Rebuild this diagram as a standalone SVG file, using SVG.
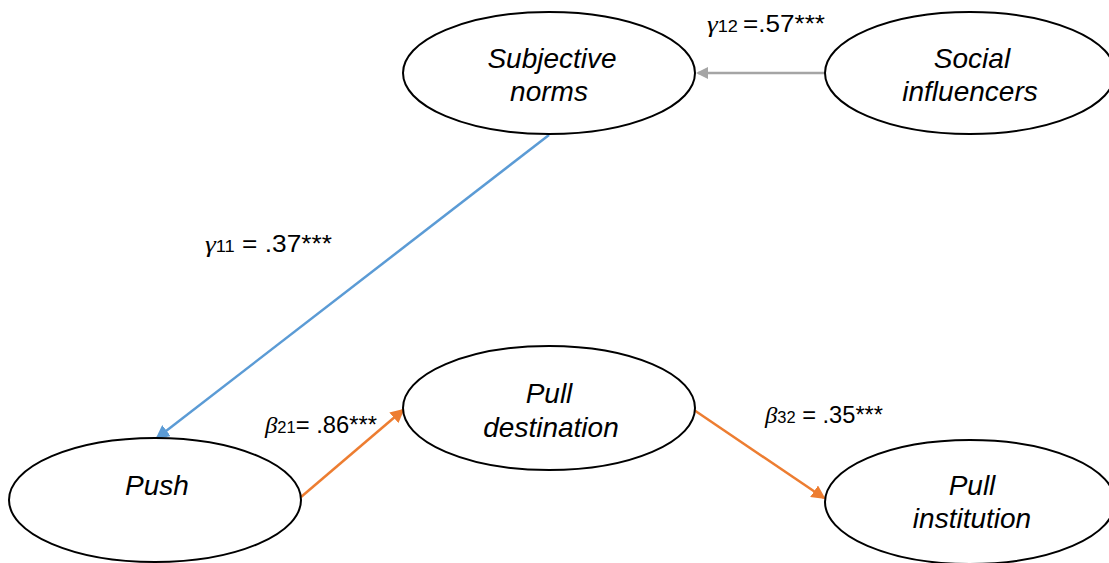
<svg xmlns="http://www.w3.org/2000/svg" width="1109" height="563" viewBox="0 0 1109 563">
<defs>
<style>
.node{fill:#fff;stroke:#000;stroke-width:2}
.nt{font-family:"Liberation Sans",Arial,sans-serif;font-style:italic;font-size:28px;text-anchor:middle;fill:#000}
.lb{font-family:"Liberation Sans",Arial,sans-serif;font-size:23px;fill:#000}
.gr{font-family:"Liberation Serif","Times New Roman",serif;font-style:italic;font-size:24px}
.sb{font-size:16px}
</style>
<marker id="ag" markerWidth="12" markerHeight="12" refX="10" refY="6" orient="auto" markerUnits="userSpaceOnUse" viewBox="0 0 12 12"><path d="M0,0L12,6L0,12z" fill="#A5A5A5"/></marker>
<marker id="ab" markerWidth="14" markerHeight="14" refX="12" refY="7" orient="auto" markerUnits="userSpaceOnUse" viewBox="0 0 14 14"><path d="M0,0L14,7L0,14z" fill="#5B9BD5"/></marker>
<marker id="ao" markerWidth="14" markerHeight="14" refX="12" refY="7" orient="auto" markerUnits="userSpaceOnUse" viewBox="0 0 14 14"><path d="M0,0L14,7L0,14z" fill="#ED7D31"/></marker>
</defs>
<rect width="1109" height="563" fill="#fff"/>
<g id="connectors">
<line x1="826" y1="73" x2="698" y2="73" stroke="#A5A5A5" stroke-width="2.5" marker-end="url(#ag)"/>
<line x1="549" y1="135" x2="157" y2="438" stroke="#5B9BD5" stroke-width="2.5" marker-end="url(#ab)"/>
<line x1="301" y1="497" x2="403" y2="410" stroke="#ED7D31" stroke-width="2.5" marker-end="url(#ao)"/>
<line x1="694" y1="410" x2="824" y2="498" stroke="#ED7D31" stroke-width="2.5" marker-end="url(#ao)"/>
</g>
<g id="n-subjective">
<ellipse class="node" cx="549" cy="73" rx="146" ry="61"/>
<text class="nt" x="552" y="68">Subjective</text>
<text class="nt" x="549" y="101">norms</text>
</g>
<g id="n-social">
<ellipse class="node" cx="970" cy="73" rx="145" ry="61"/>
<text class="nt" x="972" y="68">Social</text>
<text class="nt" x="970" y="101">influencers</text>
</g>
<g id="n-pulldest">
<ellipse class="node" cx="549" cy="408" rx="146" ry="62"/>
<text class="nt" x="549" y="403">Pull</text>
<text class="nt" x="551" y="437">destination</text>
</g>
<g id="n-push">
<ellipse class="node" cx="155" cy="500" rx="146" ry="62"/>
<text class="nt" x="157" y="495">Push</text>
</g>
<g id="n-pullinst">
<ellipse class="node" cx="970" cy="502" rx="145" ry="62"/>
<text class="nt" x="972" y="495">Pull</text>
<text class="nt" x="972" y="528">institution</text>
</g>
<g id="labels">
<text class="lb" x="707" y="32" textLength="118" lengthAdjust="spacingAndGlyphs"><tspan class="gr">γ</tspan><tspan class="sb">12 </tspan>=.57***</text>
<text class="lb" x="205" y="252" textLength="127" lengthAdjust="spacingAndGlyphs"><tspan class="gr">γ</tspan><tspan class="sb">11</tspan> = .37***</text>
<text class="lb" x="265" y="433" textLength="112" lengthAdjust="spacingAndGlyphs"><tspan class="gr">β</tspan><tspan class="sb">21</tspan>= .86***</text>
<text class="lb" x="765" y="423" textLength="118" lengthAdjust="spacingAndGlyphs"><tspan class="gr">β</tspan><tspan class="sb">32</tspan> = .35***</text>
</g>
</svg>
